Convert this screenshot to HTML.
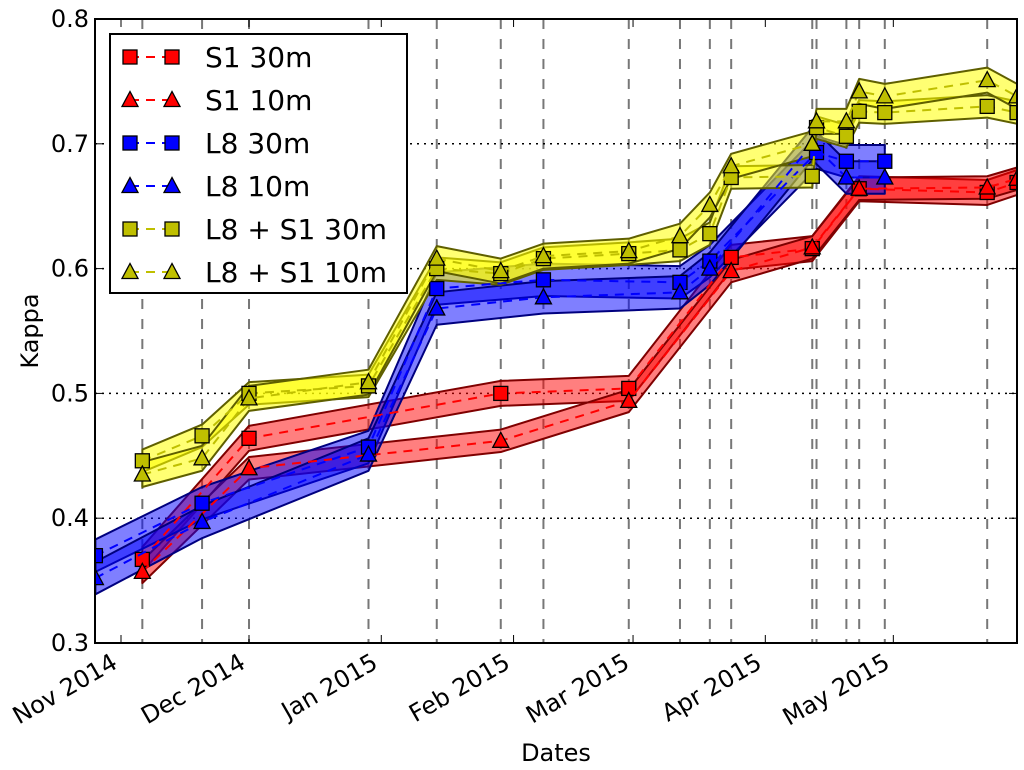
<!DOCTYPE html>
<html><head><meta charset="utf-8"><style>
body{margin:0;background:#fff;}
svg{display:block;font-family:"DejaVu Sans","Liberation Sans",sans-serif;}
</style></head><body>
<svg id="chart" width="1024" height="770" xmlns="http://www.w3.org/2000/svg">
<defs><clipPath id="clip"><rect x="95" y="19" width="922" height="624"/></clipPath></defs>
<g id="grid"></g>
<g id="bands" clip-path="url(#clip)"></g>
<g id="lines" clip-path="url(#clip)"></g>
<g id="axes"></g>
<g id="legend"></g>
<text x="38" y="331" font-size="24" text-anchor="middle" transform="rotate(-90 38 331)">Kappa</text>
<text x="556" y="761" font-size="24" text-anchor="middle">Dates</text>
</svg>
<script>
// Days since 1 Nov 2014
const acqDays = [5,19,30,58,74,89,99,119,131,138,143,162,163,170,173,179,203];
const monthDays = [0,30,61,92,120,151,181];
const monthLabels = ["Nov 2014","Dec 2014","Jan 2015","Feb 2015","Mar 2015","Apr 2015","May 2015"];
const yTicks = [0.3,0.4,0.5,0.6,0.7,0.8];
const yGrid = [0.4,0.5,0.6,0.7];

const s1Days = [5,30,89,119,143,162,173,203,210];
const s1_30 = [0.367,0.464,0.500,0.504,0.609,0.616,0.664,0.661,0.669];
const s1_10 = [0.357,0.440,0.462,0.494,0.598,0.617,0.664,0.665,0.672];
const l8Days30 = [-6,19,58,74,99,131,138,163,170,179];
const l8_30 = [0.370,0.412,0.457,0.584,0.591,0.589,0.606,0.693,0.686,0.686];
const l8Days10 = [-6,19,58,74,99,131,138,162,170,179];
const l8_10 = [0.352,0.397,0.451,0.568,0.577,0.581,0.600,0.700,0.673,0.673];
const combDays = [5,19,30,58,74,89,99,119,131,138,143,162,163,170,173,179,203,210];
const comb_30 = [0.446,0.466,0.500,0.506,0.600,0.596,0.608,0.612,0.615,0.628,0.673,0.674,0.713,0.706,0.726,0.725,0.730,0.725];
const comb_10 = [0.435,0.448,0.496,0.509,0.608,0.598,0.610,0.614,0.626,0.651,0.682,0.700,0.718,0.718,0.742,0.738,0.751,0.738];
const bandHalf = [0.010,0.009,0.013,0.013,0.009,0.010];

const NS="http://www.w3.org/2000/svg";
const X0=95,X1=1017,Y0=19,Y1=643;
function xs(d){return 121+d*4.267;}
function ys(v){return Y1-(v-0.3)*1248;}
function mk(tag,attrs,parent){const e=document.createElementNS(NS,tag);for(const k in attrs)e.setAttribute(k,attrs[k]);parent.appendChild(e);return e;}
const grid=document.getElementById('grid'),axes=document.getElementById('axes'),bands=document.getElementById('bands'),lines=document.getElementById('lines'),legend=document.getElementById('legend');

acqDays.forEach(d=>{const l=mk('line',{x1:xs(d),x2:xs(d),y1:Y0,y2:Y1,stroke:'#777','stroke-width':2,'stroke-dasharray':'10,10'},grid);

});
yGrid.forEach(v=>{const l=mk('line',{x1:X0,x2:X1,y1:ys(v),y2:ys(v),stroke:'#000','stroke-width':1.5,'stroke-dasharray':'2,5'},grid);

});

const series=[
 {name:'S1 30m',days:s1Days,vals:s1_30,c:'#ff0000',fill:'#ff0000',edge:'#7f0000',m:'s'},
 {name:'S1 10m',days:s1Days,vals:s1_10,c:'#ff0000',fill:'#ff0000',edge:'#7f0000',m:'t'},
 {name:'L8 30m',days:l8Days30,vals:l8_30,c:'#0000ff',fill:'#0000ff',edge:'#00007f',m:'s'},
 {name:'L8 10m',days:l8Days10,vals:l8_10,c:'#0000ff',fill:'#0000ff',edge:'#00007f',m:'t'},
 {name:'L8 + S1 30m',days:combDays,vals:comb_30,c:'#bfbf00',fill:'#ffff00',edge:'#5f5f00',m:'s'},
 {name:'L8 + S1 10m',days:combDays,vals:comb_10,c:'#bfbf00',fill:'#ffff00',edge:'#5f5f00',m:'t'}];

function marker(m,x,y,color,parent){
 let e;
 if(m==='s') e=mk('rect',{x:x-7,y:y-7,width:14,height:14,fill:color,stroke:'#000','stroke-width':1.3},parent);
 else e=mk('polygon',{points:`${x},${y-8.5} ${x-8},${y+6.5} ${x+8},${y+6.5}`,fill:color,stroke:'#000','stroke-width':1.3},parent);
 return e;}

series.forEach((s,i)=>{
 const h=bandHalf[i];
 const up=s.days.map((d,j)=>`${xs(d)},${ys(s.vals[j]+h)}`);
 const dn=s.days.map((d,j)=>`${xs(d)},${ys(s.vals[j]-h)}`).reverse();
 const b=mk('polygon',{points:up.concat(dn).join(' '),fill:s.fill,'fill-opacity':i>=4?0.55:0.5,stroke:s.edge,'stroke-width':2,'stroke-linejoin':'round'},bands);
 
 
});
series.forEach((s,i)=>{
 const pts=s.days.map((d,j)=>`${xs(d)},${ys(s.vals[j])}`).join(' ');
 const l=mk('polyline',{points:pts,fill:'none',stroke:s.c,'stroke-width':2,'stroke-dasharray':'9,7'},lines);
 
 
 s.days.forEach((d,j)=>{const e=marker(s.m,xs(d),ys(s.vals[j]),s.c,lines);
 
 });
});

// axes
const fr=mk('rect',{x:X0,y:Y0,width:X1-X0,height:Y1-Y0,fill:'none',stroke:'#000','stroke-width':2},axes);


yTicks.forEach(v=>{
 mk('line',{x1:X0,x2:X0+8,y1:ys(v),y2:ys(v),stroke:'#000','stroke-width':1},axes);
 mk('line',{x1:X1,x2:X1-8,y1:ys(v),y2:ys(v),stroke:'#000','stroke-width':1},axes);
 const t=mk('text',{x:89,y:ys(v)+8,'font-size':24,'text-anchor':'end'},axes);t.textContent=v.toFixed(1);
 
 
});
monthDays.forEach((d,i)=>{
 const x=xs(d);
 mk('line',{x1:x,x2:x,y1:Y1,y2:Y1-8,stroke:'#000','stroke-width':1},axes);
 mk('line',{x1:x,x2:x,y1:Y0,y2:Y0+8,stroke:'#000','stroke-width':1},axes);
 const t=mk('text',{x:x-2,y:Y1+24,'font-size':24,'text-anchor':'end',transform:`rotate(-30 ${x-2} ${Y1+24})`},axes);
 t.textContent=monthLabels[i];
 
 
});

// legend
const lb=mk('rect',{x:110,y:34,width:297,height:259,fill:'#fff',stroke:'#000','stroke-width':2},legend);


series.forEach((s,i)=>{
 const y=57+i*43;
 const g=mk('g',{},legend);
 
 
 mk('line',{x1:130,x2:172,y1:y,y2:y,stroke:s.c,'stroke-width':2,'stroke-dasharray':'9,7'},g);
 marker(s.m,130,y,s.c,g);marker(s.m,172,y,s.c,g);
 const t=mk('text',{x:205,y:y+10,'font-size':28},g);t.textContent=s.name;
});
</script>
</body></html>
